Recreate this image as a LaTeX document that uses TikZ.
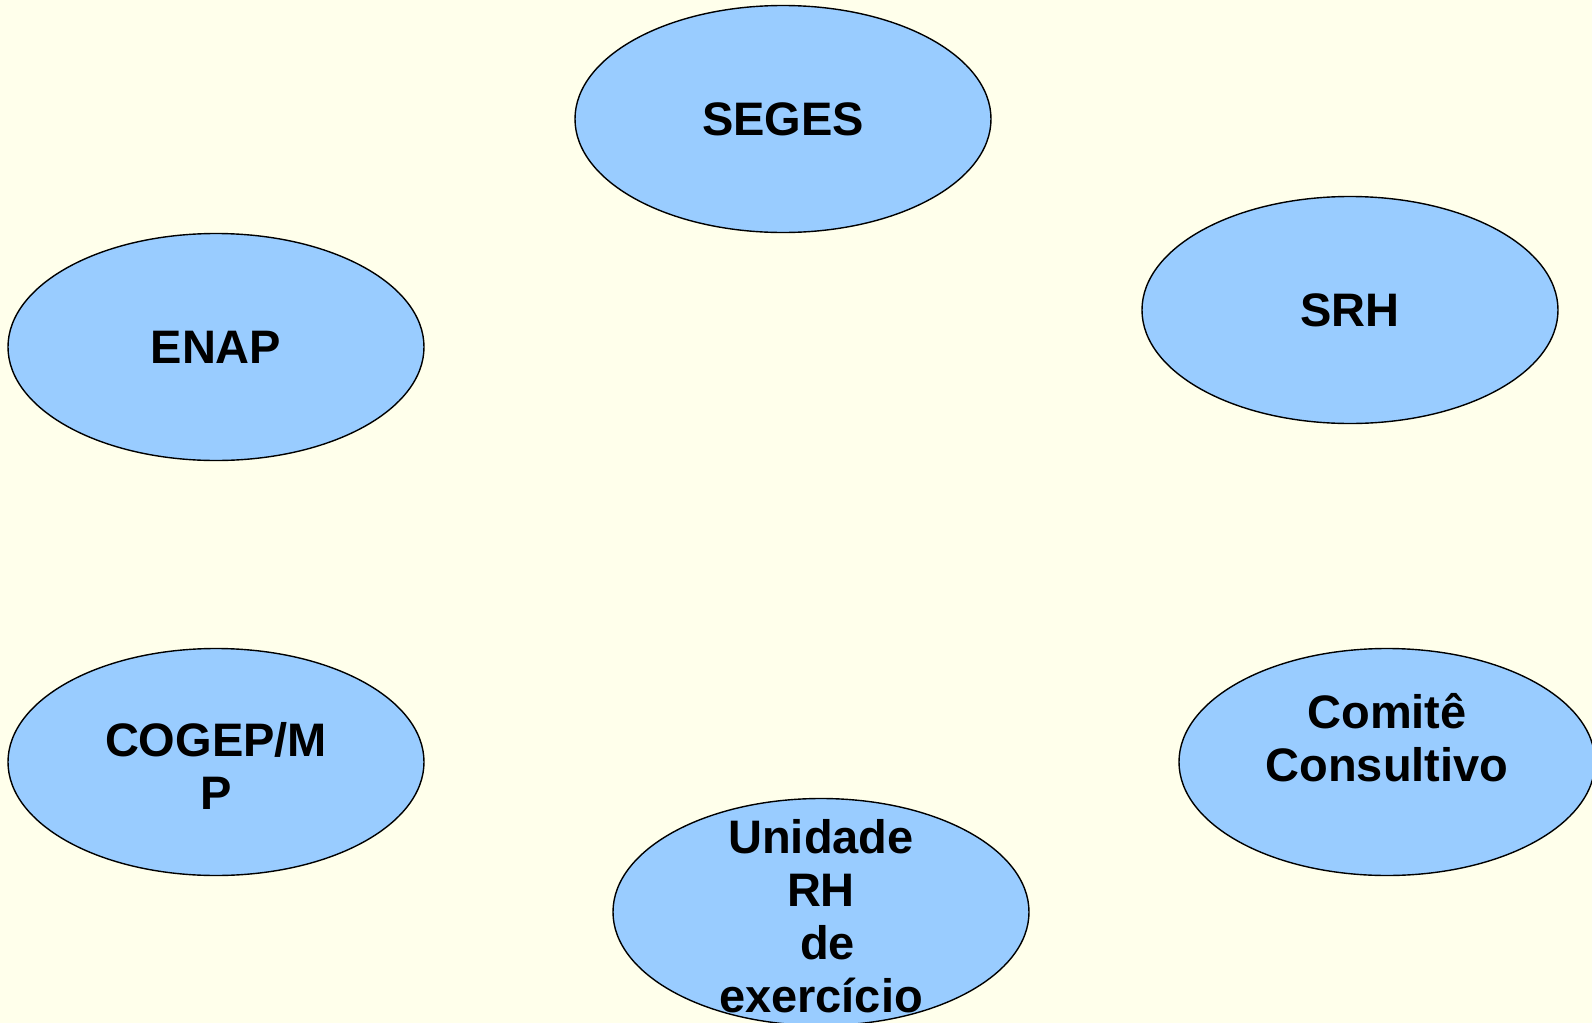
\documentclass[tikz,border=0pt]{standalone}
\usepackage{fontspec}
\setmainfont{Liberation Sans}
\usetikzlibrary{shapes.geometric}

\definecolor{paper}{HTML}{FFFFEB}
\definecolor{ovalblue}{HTML}{99CCFF}

\tikzset{
  orgunit/.style={ellipse, draw=black, fill=ovalblue, line width=0.7pt,
    minimum width=208pt, minimum height=113.5pt, inner sep=0pt},
  unitlabel/.style={align=center, inner sep=0pt,
    font=\bfseries\fontsize{23.5}{26.5}\selectfont}
}

\begin{document}
\begin{tikzpicture}[x=0.5pt,y=-0.5pt]
  \fill[paper] (0,0) rectangle (1592,1023);
  \useasboundingbox (0,0) rectangle (1592,1023);
  \clip (0,0) rectangle (1592,1023);
  % the ovals
  \node[orgunit] (seges)  at (783,119)  {};
  \node[orgunit] (srh)    at (1350,310) {};
  \node[orgunit] (enap)   at (216,347)  {};
  \node[orgunit] (cogep)  at (216,762)  {};
  \node[orgunit] (comite) at (1387,762) {};
  \node[orgunit] (unidade) at (821,912) {};
  % their texts
  \node[unitlabel] (segesT)  at (seges)  {SEGES};
  \node[unitlabel] (srhT)    at (srh)    {SRH};
  \node[unitlabel] (enapT)   at (enap)   {ENAP};
  \node[unitlabel] (cogepT)  at ([yshift=-2pt]cogep.center)  {COGEP/M\\P};
  \node[unitlabel] (comiteT) at ([yshift=12pt]comite.center) {Comitê\\Consultivo};
  \node[unitlabel] (unidadeT) at ([yshift=-2pt]unidade.center) {Unidade\\RH\\\ de\\exercício};
\end{tikzpicture}
\end{document}
